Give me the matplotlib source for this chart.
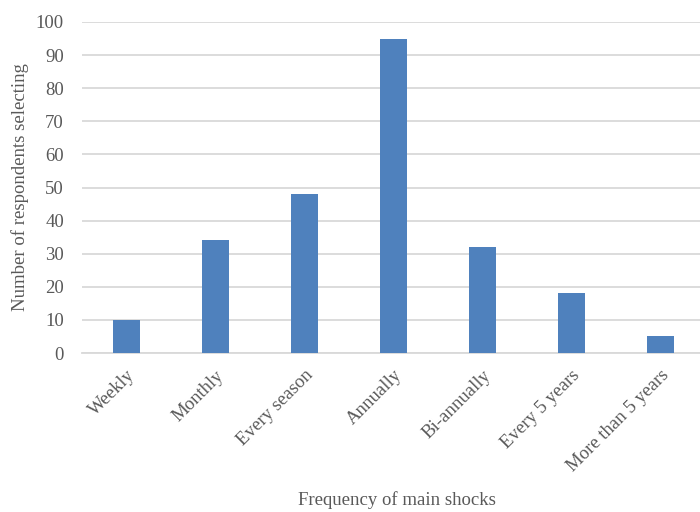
import numpy as np
import matplotlib.pyplot as plt

plt.rcParams['font.family'] = ['Liberation Serif', 'DejaVu Serif']

categories = ["Weekly", "Monthly", "Every season", "Annually",
              "Bi-annually", "Every 5 years", "More than 5 years"]
counts = [10, 34, 48, 95, 32, 18, 5]

fig = plt.figure(figsize=(7, 5.12), dpi=100)
ax = fig.add_axes([82 / 700, 159 / 512, 623 / 700, 331 / 512])

x = np.arange(len(categories))
ax.bar(x, counts, width=0.31, color="#4f81bd", zorder=3)

ax.set_xlim(-0.5, len(categories) - 0.5)
ax.set_ylim(0, 100)
ax.set_yticks(np.arange(0, 101, 10))
ax.grid(axis="y", color="#d9d9d9", linewidth=1.3, zorder=0)

for side in ["top", "right", "left"]:
    ax.spines[side].set_visible(False)
ax.spines["bottom"].set_color("#d9d9d9")
ax.spines["bottom"].set_linewidth(1.3)

ax.set_xticks(x)
ax.set_xticklabels(categories, rotation=45, ha="right", rotation_mode="anchor")
ax.tick_params(axis="both", length=0, labelsize=13.5, labelcolor="#595959")
ax.tick_params(axis="x", pad=10)
ax.tick_params(axis="y", pad=13)

ax.set_ylabel("Number of respondents selecting", fontsize=13.5, color="#595959", labelpad=5)
fig.text(397 / 700, 1 - 500 / 512, "Frequency of main shocks",
         fontsize=13.5, color="#595959", ha="center", va="center")

fig.savefig("out.png", dpi=100)
